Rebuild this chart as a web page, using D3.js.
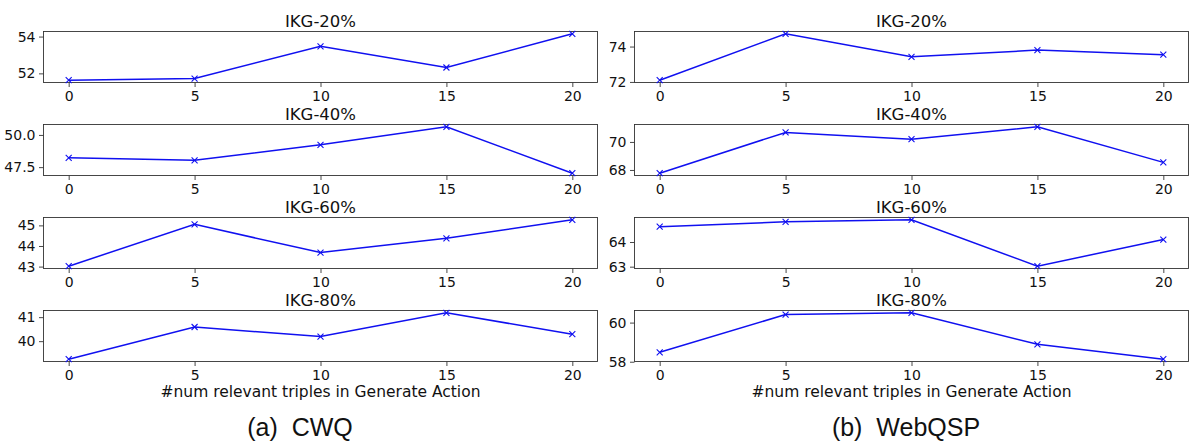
<!DOCTYPE html>
<html>
<head>
<meta charset="utf-8">
<script src="https://cdn.jsdelivr.net/npm/d3@7"></script>
<style>
  html, body { margin: 0; padding: 0; background: #fff; }
  svg { display: block; }
</style>
</head>
<body>
<svg id="chart" width="1195" height="442"></svg>
<script>
// ---------------- DATA ----------------
const xValues = [0, 5, 10, 15, 20];
const xTickLabels = ["0", "5", "10", "15", "20"];
const panelTitles = ["IKG-20%", "IKG-40%", "IKG-60%", "IKG-80%"];
const xAxisLabel = "#num relevant triples in Generate Action";
const captions = ["(a)  CWQ", "(b)  WebQSP"];

// CWQ series
const cwq20 = [51.63, 51.72, 53.47, 52.32, 54.15];
const cwq40 = [48.22, 48.03, 49.23, 50.63, 47.03];
const cwq60 = [43.02, 45.05, 43.68, 44.37, 45.27];
const cwq80 = [39.25, 40.59, 40.19, 41.18, 40.29];
// WebQSP series
const wqsp20 = [72.1, 74.72, 73.42, 73.8, 73.54];
const wqsp40 = [67.77, 70.68, 70.2, 71.08, 68.54];
const wqsp60 = [64.62, 64.82, 64.9, 63.02, 64.1];
const wqsp80 = [58.48, 60.41, 60.5, 58.89, 58.13];

// y tick values per panel
const cwqYTicks = [[52, 54], [47.5, 50.0], [43, 44, 45], [40, 41]];
const wqspYTicks = [[72, 74], [68, 70], [63, 64], [58, 60]];
const cwqYFormat = [".0f", ".1f", ".0f", ".0f"];
const wqspYFormat = [".0f", ".0f", ".0f", ".0f"];

// ---------------- LAYOUT ----------------
const svg = d3.select("#chart");
const FONT = "'DejaVu Sans', sans-serif";
const columns = [
  { left: 43.5, series: [cwq20, cwq40, cwq60, cwq80], ticks: cwqYTicks, fmt: cwqYFormat, caption: captions[0], capX: 300 },
  { left: 634.5, series: [wqsp20, wqsp40, wqsp60, wqsp80], ticks: wqspYTicks, fmt: wqspYFormat, caption: captions[1], capX: 906 }
];
const panelW = 554;
const panelH = 51;
const panelTops = [31.5, 124.5, 217.5, 310.5];
const color = "#1010f0";
const spine = "#333";

columns.forEach(col => {
  const x = d3.scaleLinear().domain([-1, 21]).range([col.left, col.left + panelW]);
  col.series.forEach((vals, i) => {
    const top = panelTops[i];
    const ext = d3.extent(vals);
    const pad = (ext[1] - ext[0]) * 0.05;
    const y = d3.scaleLinear().domain([ext[0] - pad, ext[1] + pad]).range([top + panelH, top]);
    const g = svg.append("g");

    const xa = g.append("g")
      .attr("transform", `translate(0,${top + panelH})`)
      .call(d3.axisBottom(x).tickValues(xValues).tickFormat((d, k) => xTickLabels[k]).tickSizeOuter(0).tickSize(4.5).tickPadding(4.5));
    const ya = g.append("g")
      .attr("transform", `translate(${col.left},0)`)
      .call(d3.axisLeft(y).tickValues(col.ticks[i]).tickFormat(d3.format(col.fmt[i])).tickSizeOuter(0).tickSize(4.5).tickPadding(3.5));
    [xa, ya].forEach(a => {
      a.select(".domain").remove();
      a.selectAll("line").attr("stroke", spine).attr("stroke-width", 0.9);
      a.selectAll("text").attr("font-family", FONT).attr("font-size", 14).attr("fill", "#111");
    });

    g.append("rect")
      .attr("x", col.left).attr("y", top)
      .attr("width", panelW).attr("height", panelH)
      .attr("fill", "none").attr("stroke", spine).attr("stroke-width", 0.9);

    const pts = vals.map((v, k) => [xValues[k], v]);
    g.append("path")
      .datum(pts)
      .attr("fill", "none")
      .attr("stroke", color)
      .attr("stroke-width", 1.5)
      .attr("d", d3.line().x(d => x(d[0])).y(d => y(d[1])));

    const s = 3;
    g.selectAll(".mk").data(pts).enter().append("path")
      .attr("d", d => {
        const cx = x(d[0]), cy = y(d[1]);
        return `M${cx - s},${cy - s}L${cx + s},${cy + s}M${cx - s},${cy + s}L${cx + s},${cy - s}`;
      })
      .attr("stroke", color).attr("stroke-width", 1.1).attr("fill", "none");

    g.append("text")
      .attr("x", col.left + panelW / 2).attr("y", top - 5)
      .attr("text-anchor", "middle")
      .attr("font-family", FONT).attr("font-size", 16.5).attr("fill", "#111")
      .text(panelTitles[i]);
  });

  svg.append("text")
    .attr("x", col.left + panelW / 2).attr("y", 397)
    .attr("text-anchor", "middle")
    .attr("font-family", FONT).attr("font-size", 15.5).attr("fill", "#111")
    .text(xAxisLabel);

  svg.append("text")
    .attr("x", col.capX).attr("y", 436)
    .attr("text-anchor", "middle")
    .attr("font-family", "'Liberation Sans', Arial, sans-serif").attr("font-size", 25).attr("fill", "#111")
    .style("white-space", "pre")
    .text(col.caption);
});
</script>
</body>
</html>
